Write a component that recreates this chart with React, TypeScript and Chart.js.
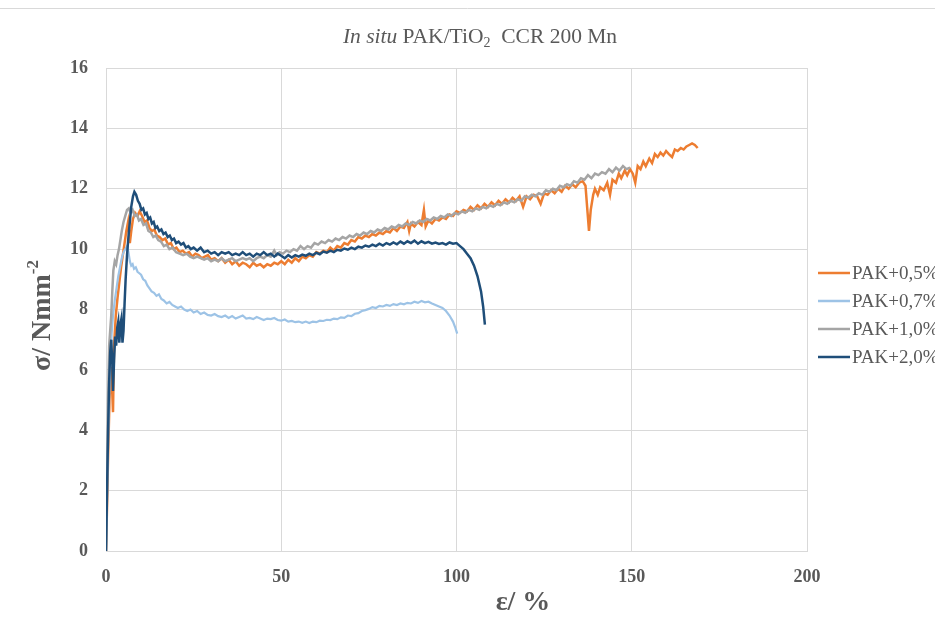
import React, { useEffect, useRef } from "react";
import { Chart, registerables } from "chart.js";

Chart.register(...registerables);

const seriesNames = ["PAK+0,5%", "PAK+0,7%", "PAK+1,0%", "PAK+2,0%"];
const seriesColors = ["#ED7D31", "#9DC3E6", "#A5A5A5", "#1F4E79"];
const xTicks = [0, 50, 100, 150, 200];
const yTicks = [0, 2, 4, 6, 8, 10, 12, 14, 16];

const strain05 = [0,0.3,0.6,1.0,1.4,1.8,2.0,2.3,2.8,3.3,3.8,4.3,4.8,5.3,5.8,6.3,6.8,7.2,7.7,8.3,9.0,9.6,10.3,11.0,11.7,12.4,13.1,13.8,14.5,15.3,16.1,16.9,17.7,18.5,19.3,20.1,21.0,21.9,22.8,23.7,24.6,25.5,26.4,27.3,28.2,29.1,30,31,32,33,34,35,36,37,38,39,40,41,42,43,44,45,46,47,48,49,50,51,52,53,54,55,56,57,58,59,60,61,62,63,64,65,66,67,68,69,70,71,72,73,74,75,76,77,78,79,80,81,82,83,84,85,86,86.5,87,88,89,90,90.7,91.2,92,93,94,95,96,97,98,99,100,101,102,103,104,105,106,107,108,109,110,111,112,113,114,115,116,117,118,119,120,121,122,123,124,125,126,127,128,129,130,131,132,133,134,135,136,136.8,137.4,137.8,138.3,139,139.5,140.3,141,142,143,143.8,144.5,145.5,146.3,147,148,148.7,149.5,150.3,151,151.7,152.5,153.3,154,155,155.8,156.6,157.4,158.2,159,159.8,160.6,161.5,162.3,163.1,164,164.8,165.6,166.4,167.2,168,168.8];
const stress05 = [0,1.5,3.2,5.0,6.1,5.2,4.6,6.8,7.8,8.4,8.9,9.4,9.8,10.2,10.6,10.9,10.2,10.6,11.0,11.2,11.1,11.25,11.1,10.9,10.95,10.7,10.6,10.65,10.45,10.4,10.3,10.35,10.15,10.2,10.0,10.05,9.9,9.95,9.85,9.9,9.75,9.85,9.8,9.7,9.75,9.8,9.65,9.7,9.6,9.7,9.55,9.65,9.5,9.6,9.45,9.55,9.5,9.4,9.55,9.45,9.5,9.4,9.5,9.45,9.55,9.5,9.6,9.5,9.65,9.55,9.7,9.6,9.75,9.7,9.8,9.75,9.9,9.85,9.95,9.9,10.05,9.95,10.1,10.05,10.2,10.15,10.3,10.25,10.4,10.35,10.45,10.4,10.5,10.45,10.55,10.5,10.6,10.55,10.7,10.6,10.75,10.7,10.9,10.6,10.85,10.75,10.9,10.8,11.3,10.75,10.95,10.85,11.0,10.95,11.05,11.0,11.15,11.1,11.25,11.2,11.3,11.25,11.4,11.3,11.45,11.35,11.5,11.4,11.55,11.45,11.6,11.5,11.65,11.55,11.7,11.6,11.75,11.4,11.75,11.65,11.8,11.75,11.5,11.85,11.8,11.95,11.85,12.0,11.9,12.1,12.0,12.15,12.05,12.2,12.25,12.1,11.2,10.6,11.3,11.8,12.0,11.8,12.05,11.95,12.2,11.8,12.3,12.2,12.5,12.35,12.6,12.45,12.65,12.5,12.2,12.75,12.65,12.9,12.75,13.0,12.85,13.15,13.05,13.2,13.1,13.25,13.15,13.05,13.3,13.25,13.35,13.3,13.4,13.45,13.5,13.45,13.35];

const strain07 = [0,0.4,0.8,1.2,1.6,2.0,2.5,3.0,3.5,4.0,4.5,5.0,5.5,6.0,6.4,6.8,7.2,7.6,8.0,8.5,9.0,9.5,10,10.6,11.2,11.8,12.4,13,13.7,14.4,15.1,15.8,16.5,17.3,18.1,18.9,19.7,20.5,21.4,22.3,23.2,24.1,25,26,27,28,29,30,31,32,33,34,35,36,37,38,39,40,41,42,43,44,45,46,47,48,49,50,51,52,53,54,55,56,57,58,59,60,61,62,63,64,65,66,67,68,69,70,71,72,73,74,75,76,77,78,79,80,81,82,83,84,85,86,87,88,89,90,91,92,93,94,95,96,97,98,99,99.6,100.2];
const stress07 = [0,2.5,4.6,6.2,7.2,7.8,8.3,8.7,9.1,9.4,9.7,9.9,10.0,10.1,9.9,9.6,9.45,9.5,9.35,9.4,9.25,9.2,9.15,9.0,8.95,8.8,8.7,8.6,8.55,8.45,8.5,8.35,8.3,8.2,8.25,8.15,8.1,8.05,8.1,8.0,7.95,8.0,7.9,7.95,7.85,7.9,7.82,7.8,7.85,7.78,7.75,7.8,7.72,7.78,7.7,7.75,7.8,7.7,7.72,7.68,7.75,7.7,7.65,7.7,7.68,7.72,7.65,7.63,7.67,7.6,7.62,7.58,7.6,7.56,7.6,7.55,7.6,7.58,7.63,7.62,7.66,7.65,7.7,7.68,7.74,7.72,7.8,7.78,7.86,7.88,7.95,7.98,8.02,8.08,8.05,8.12,8.1,8.15,8.12,8.18,8.15,8.2,8.17,8.22,8.2,8.26,8.22,8.28,8.24,8.26,8.2,8.15,8.1,8.05,7.95,7.8,7.6,7.42,7.2];

const strain10 = [0,0.3,0.6,0.9,1.2,1.5,1.8,2.1,2.5,2.9,3.3,3.7,4.1,4.5,5.0,5.5,6.0,6.5,7.0,7.6,8.2,8.8,9.4,10.0,10.7,11.4,12.1,12.8,13.5,14.2,14.9,15.7,16.5,17.3,18.1,19,20,21,22,23,24,25,26,27,28,29,30,31,32,33,34,35,36,37,38,39,40,41,42,43,44,45,46,47,48,48.7,49.5,50.5,51.5,52.5,53.5,54.5,55.5,56.5,57.5,58.5,59.5,60.5,61.5,62.5,63.5,64.5,65.5,66.5,67.5,68.5,69.5,70.5,71.5,72.5,73.5,74.5,75.5,76.5,77.5,78.5,79.5,80.5,81.5,82.5,83.5,84.5,85.5,86.5,87.5,88.5,89.5,90.5,91.5,92.5,93.5,94.5,95.5,96.5,97.5,98.5,99.5,100.5,101.5,102.5,103.5,104.5,105.5,106.5,107.5,108.5,109.5,110.5,111.5,112.5,113.5,114.5,115.5,116.5,117.5,118.5,119.5,120.5,121.5,122.5,123.5,124.5,125.5,126.5,127.5,128.5,129.5,130.5,131.5,132.5,133.5,134.5,135.5,136.5,137.5,138.5,139.5,140.5,141.5,142.5,143.5,144.5,145.5,146.5,147.5,148.5,149.5];
const stress10 = [0,2.5,5.0,6.8,7.3,7.8,8.6,9.3,9.6,9.5,9.8,10.0,10.3,10.6,10.9,11.1,11.3,11.35,11.2,11.3,11.1,11.15,10.95,11.0,10.8,10.85,10.6,10.55,10.4,10.45,10.3,10.25,10.1,10.15,10.0,10.05,9.9,9.85,9.8,9.85,9.75,9.7,9.75,9.7,9.65,9.7,9.6,9.65,9.6,9.7,9.6,9.65,9.7,9.6,9.65,9.7,9.65,9.7,9.6,9.7,9.75,9.7,9.8,9.75,9.95,9.8,9.9,9.85,9.95,9.9,10.0,9.95,10.1,10.0,10.1,10.05,10.2,10.15,10.25,10.2,10.3,10.25,10.35,10.3,10.4,10.35,10.45,10.4,10.5,10.45,10.55,10.5,10.6,10.55,10.65,10.6,10.7,10.65,10.75,10.7,10.8,10.75,10.85,10.8,10.9,10.85,10.95,10.9,11.0,10.95,11.05,11.0,11.1,11.05,11.15,11.1,11.2,11.15,11.25,11.2,11.3,11.25,11.35,11.3,11.4,11.35,11.45,11.4,11.5,11.45,11.55,11.5,11.6,11.55,11.65,11.6,11.75,11.7,11.8,11.75,11.85,11.8,11.95,11.9,12.0,11.95,12.1,12.05,12.15,12.1,12.25,12.2,12.35,12.3,12.45,12.35,12.5,12.45,12.55,12.5,12.65,12.55,12.7,12.6,12.75,12.65,12.7];

const strain20 = [0,0.3,0.6,0.9,1.2,1.5,1.8,2.0,2.3,2.6,2.9,3.2,3.5,3.8,4.1,4.4,4.7,5.0,5.3,5.6,6.0,6.4,6.8,7.2,7.7,8.1,8.6,9.1,9.6,10.1,10.6,11.1,11.6,12.1,12.6,13.1,13.6,14.1,14.6,15.2,15.8,16.4,17.0,17.6,18.2,18.8,19.4,20,20.7,21.4,22.1,22.8,23.5,24.2,25,26,27,28,29,30,31,32,33,34,35,36,37,38,39,40,41,42,43,44,45,46,47,48,49,50,51,52,53,54,55,56,57,58,59,60,61,62,63,64,65,66,67,68,69,70,71,72,73,74,75,76,77,78,79,80,81,82,83,84,85,86,87,88,89,90,91,92,93,94,95,96,97,98,99,100,101,102,103,104,105,106,107,107.6,108.1];
const stress20 = [0,2.0,4.0,5.6,6.6,7.0,6.2,5.3,6.3,7.1,6.8,7.4,7.6,6.9,7.5,7.7,6.9,7.3,8.2,9.0,9.8,10.4,10.9,11.4,11.75,11.9,11.8,11.6,11.5,11.3,11.35,11.15,11.2,11.0,11.05,10.85,10.9,10.7,10.75,10.6,10.65,10.5,10.55,10.4,10.45,10.3,10.35,10.2,10.25,10.15,10.2,10.05,10.1,10.0,10.05,9.95,10.05,9.9,9.95,9.85,9.9,9.8,9.9,9.85,9.9,9.8,9.85,9.8,9.9,9.8,9.85,9.75,9.85,9.8,9.9,9.8,9.85,9.75,9.85,9.78,9.7,9.8,9.72,9.8,9.75,9.82,9.78,9.85,9.8,9.88,9.83,9.92,9.88,9.95,9.9,9.98,9.95,10.02,9.98,10.05,10.0,10.08,10.05,10.12,10.08,10.15,10.1,10.18,10.12,10.2,10.15,10.22,10.16,10.25,10.18,10.26,10.2,10.28,10.18,10.26,10.2,10.24,10.18,10.22,10.17,10.2,10.15,10.22,10.18,10.2,10.1,10.0,9.85,9.7,9.45,9.1,8.6,8.1,7.5];

const strains = [strain05, strain07, strain10, strain20];
const stresses = [stress05, stress07, stress10, stress20];

const FONT = "'Liberation Serif', 'Times New Roman', serif";
const TEXT = "#595959";
const GRID = "#D9D9D9";

const decorPlugin = {
  id: "decor",
  afterDraw(chart: any) {
    const ctx = chart.ctx;
    const area = chart.chartArea;
    ctx.save();
    ctx.strokeStyle = GRID;
    ctx.lineWidth = 1;
    ctx.beginPath();
    ctx.moveTo(0, 8.5);
    ctx.lineTo(935, 8.5);
    ctx.stroke();

    // title
    ctx.fillStyle = TEXT;
    ctx.textBaseline = "middle";
    ctx.textAlign = "left";
    const parts = [
      { t: "In situ ", f: `italic 21.5px ${FONT}`, dy: 0 },
      { t: "PAK/TiO", f: `21.5px ${FONT}`, dy: 0 },
      { t: "2", f: `14px ${FONT}`, dy: 6 },
      { t: "  CCR 200 Mn", f: `21.5px ${FONT}`, dy: 0 },
    ];
    let total = 0;
    for (const p of parts) {
      ctx.font = p.f;
      total += ctx.measureText(p.t).width;
    }
    let x = 480 - total / 2;
    for (const p of parts) {
      ctx.font = p.f;
      ctx.fillText(p.t, x, 37 + p.dy);
      x += ctx.measureText(p.t).width;
    }

    // y axis title
    ctx.save();
    ctx.translate(43, (area.top + area.bottom) / 2 + 6);
    ctx.rotate(-Math.PI / 2);
    ctx.font = `bold 28px ${FONT}`;
    const main = "σ/ Nmm";
    const mw = ctx.measureText(main).width;
    ctx.font = `bold 17px ${FONT}`;
    const sup = "-2";
    const sw = ctx.measureText(sup).width;
    const start = -(mw + sw) / 2;
    ctx.font = `bold 28px ${FONT}`;
    ctx.fillText(main, start, 0);
    ctx.font = `bold 17px ${FONT}`;
    ctx.fillText(sup, start + mw, -9);
    ctx.restore();

    // x axis title
    ctx.font = `bold 28px ${FONT}`;
    ctx.textAlign = "center";
    ctx.fillText("ε/ %", 523, 603);

    // legend
    ctx.textAlign = "left";
    ctx.font = `19px ${FONT}`;
    for (let i = 0; i < seriesNames.length; i++) {
      const y = 273 + 28 * i;
      ctx.strokeStyle = seriesColors[i];
      ctx.lineWidth = 2.5;
      ctx.beginPath();
      ctx.moveTo(818, y);
      ctx.lineTo(850, y);
      ctx.stroke();
      ctx.fillStyle = TEXT;
      ctx.fillText(seriesNames[i], 852, y + 1);
    }
    ctx.restore();
  },
};

export default function App() {
  const ref = useRef<HTMLCanvasElement>(null);
  useEffect(() => {
    document.body.style.margin = "0";
    const canvas = ref.current!;
    const drawOrder = [4, 3, 2, 1];
    const chart = new Chart(canvas, {
      type: "line",
      data: {
        datasets: seriesNames.map((name, i) => ({
          label: name,
          data: strains[i].map((s, j) => ({ x: s, y: stresses[i][j] })),
          borderColor: seriesColors[i],
          backgroundColor: seriesColors[i],
          borderWidth: i === 1 ? 2.2 : 2.5,
          pointRadius: 0,
          tension: 0,
          fill: false,
          order: drawOrder[i],
        })),
      },
      options: {
        responsive: false,
        animation: false,
        layout: { padding: { left: 0, right: 128, top: 68, bottom: 0 } },
        plugins: {
          legend: { display: false },
          title: { display: false },
          tooltip: { enabled: false },
        },
        scales: {
          x: {
            type: "linear",
            min: 0,
            max: 200,
            afterBuildTicks: (scale: any) => {
              scale.ticks = xTicks.map((v) => ({ value: v }));
            },
            afterFit: (scale: any) => {
              scale.height = 78;
            },
            grid: { color: GRID, lineWidth: 1, drawTicks: false },
            border: { color: GRID },
            ticks: {
              padding: 16,
              color: TEXT,
              font: { family: FONT, size: 18, weight: "bold" },
              maxRotation: 0,
            },
          },
          y: {
            type: "linear",
            min: 0,
            max: 16,
            afterBuildTicks: (scale: any) => {
              scale.ticks = yTicks.map((v) => ({ value: v }));
            },
            afterFit: (scale: any) => {
              scale.width = 106;
            },
            grid: { color: GRID, lineWidth: 1, drawTicks: false },
            border: { color: GRID },
            ticks: {
              padding: 18,
              color: TEXT,
              font: { family: FONT, size: 18, weight: "bold" },
            },
          },
        },
      },
      plugins: [decorPlugin],
    } as any);
    return () => chart.destroy();
  }, []);
  return (
    <div style={{ width: 935, height: 629 }}>
      <canvas ref={ref} width={935} height={629} style={{ display: "block" }} />
    </div>
  );
}
